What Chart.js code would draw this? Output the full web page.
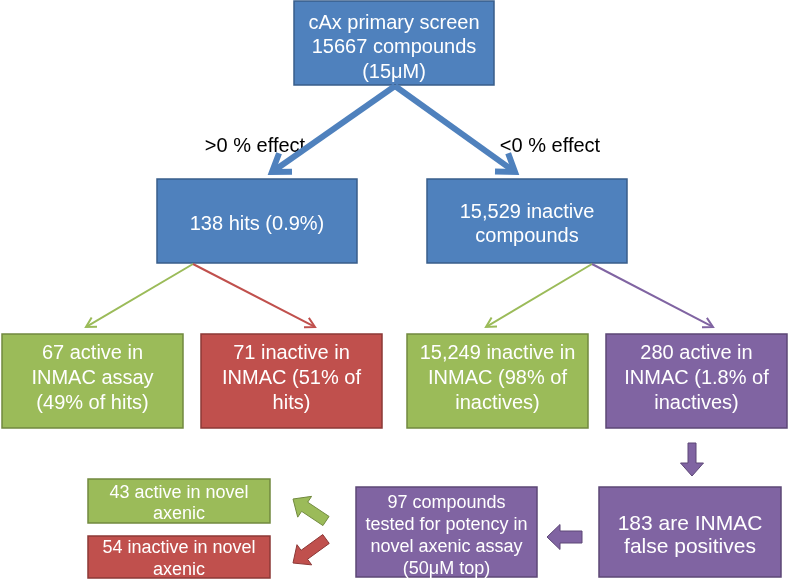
<!DOCTYPE html>
<html>
<head>
<meta charset="utf-8">
<script src="https://cdn.jsdelivr.net/npm/chart.js@4.4.0/dist/chart.umd.min.js"></script>
<style>
  html, body { margin: 0; padding: 0; background: #fff; }
  canvas { display: block; }
</style>
</head>
<body>
<canvas id="flow" width="790" height="582"></canvas>
<script>
// 단계별 박스 텍스트 (화합물 수)
const stepIds = [
  "screen", "hits", "inactive",
  "hitsActive", "hitsInactive", "inactInactive", "inactActive",
  "falsePos", "tested", "axActive", "axInactive"
];
const stepLines = [
  ["cAx primary screen", "15667 compounds", "(15μM)"],
  ["138 hits (0.9%)"],
  ["15,529 inactive", "compounds"],
  ["67 active in", "INMAC assay", "(49% of hits)"],
  ["71 inactive in", "INMAC (51% of", "hits)"],
  ["15,249 inactive in", "INMAC (98% of", "inactives)"],
  ["280 active in", "INMAC (1.8% of", "inactives)"],
  ["183 are INMAC", "false positives"],
  ["97 compounds", "tested for potency in", "novel axenic assay", "(50μM top)"],
  ["43 active in novel", "axenic"],
  ["54 inactive in novel", "axenic"]
];
const stepKinds = ["blue", "blue", "blue", "green", "red", "green", "purple", "purple", "purple", "green", "red"];

// 분기 라벨
const branchLabels = [">0 % effect", "<0 % effect"];

// 색상 (Office 테마)
const palette = {
  blue:   { fill: "#4F81BD", line: "#385D8A" },
  green:  { fill: "#9BBB59", line: "#71893F" },
  red:    { fill: "#C0504D", line: "#8C3836" },
  purple: { fill: "#8064A2", line: "#5C4776" }
};

// 레이아웃 (축 단위 = px): x, y, w, h, 글자크기, 줄간격, 텍스트 중심 y
const boxLayout = {
  screen:        [294,   1, 200, 84, 20, 24.5,  46.5],
  hits:          [157, 179, 200, 84, 20, 24,   223],
  inactive:      [427, 179, 200, 84, 20, 23.5, 223.5],
  hitsActive:    [  2, 334, 181, 94, 20, 25,   377],
  hitsInactive:  [201, 334, 181, 94, 20, 25,   377],
  inactInactive: [407, 334, 181, 94, 20, 25,   377],
  inactActive:   [606, 334, 181, 94, 20, 25,   377],
  falsePos:      [599, 487, 182, 90, 21, 23,   534.5],
  tested:        [356, 487, 181, 90, 18, 22,   535],
  axActive:      [ 88, 479, 182, 44, 18, 21.5, 502.5],
  axInactive:    [ 88, 536, 182, 42, 18, 22,   558]
};
const labelLayout = [[255, 146], [550, 146]];

// 화살표: [x1, y1, x2, y2, 색]
const thickArrows = [[395, 86, 272, 172, "blue"], [395, 86, 515, 172, "blue"]];
const thinArrows = [
  [193, 264,  86, 327, "green"],
  [193, 264, 315, 327, "red"],
  [592, 264, 486, 327, "green"],
  [592, 264, 713, 327, "purple"]
];
// 블록 화살표: [x1, y1, x2, y2, 몸통폭, 머리폭, 머리길이, 색]
const blockArrows = [
  [692, 443, 692, 476,  8, 23, 13, "purple"],
  [582, 537, 547, 537, 12, 25, 13, "purple"],
  [326, 521, 293, 499, 11, 25, 14, "green"],
  [326, 539, 293, 563, 11, 25, 14, "red"]
];

const flowPlugin = {
  id: "flow",
  afterDatasetsDraw(chart) {
    const { ctx, scales: { x, y } } = chart;
    const px = (v) => x.getPixelForValue(v);
    const py = (v) => y.getPixelForValue(v);
    ctx.save();

    // 박스
    stepIds.forEach((id, i) => {
      const [bx, by, bw, bh, fs, lh, ty] = boxLayout[id];
      const c = palette[stepKinds[i]];
      const l = px(bx), t = py(by), r = px(bx + bw), b = py(by + bh);
      ctx.fillStyle = c.fill;
      ctx.fillRect(l, t, r - l, b - t);
      ctx.strokeStyle = c.line;
      ctx.lineWidth = 1.5;
      ctx.strokeRect(l, t, r - l, b - t);

      const lines = stepLines[i];
      ctx.fillStyle = "#fff";
      ctx.font = fs + "px 'Liberation Sans', Arial, sans-serif";
      ctx.textAlign = "center";
      ctx.textBaseline = "middle";
      const cx = (l + r) / 2;
      const y0 = py(ty) - ((lines.length - 1) * lh) / 2;
      lines.forEach((s, k) => ctx.fillText(s, cx, y0 + k * lh + 1));
    });

    // 분기 라벨
    ctx.fillStyle = "#000";
    ctx.font = "20px 'Liberation Sans', Arial, sans-serif";
    branchLabels.forEach((s, i) => {
      ctx.fillText(s, px(labelLayout[i][0]), py(labelLayout[i][1]));
    });

    const openArrow = (a, lw, head, ang) => {
      const x1 = px(a[0]), y1 = py(a[1]), x2 = px(a[2]), y2 = py(a[3]);
      const th = Math.atan2(y2 - y1, x2 - x1);
      ctx.strokeStyle = palette[a[4]].fill;
      ctx.lineWidth = lw;
      ctx.lineCap = "butt";
      ctx.lineJoin = "miter";
      ctx.beginPath();
      ctx.moveTo(x1, y1);
      ctx.lineTo(x2 - Math.cos(th) * lw * 0.6, y2 - Math.sin(th) * lw * 0.6);
      ctx.stroke();
      ctx.beginPath();
      ctx.moveTo(x2 - head * Math.cos(th - ang), y2 - head * Math.sin(th - ang));
      ctx.lineTo(x2, y2);
      ctx.lineTo(x2 - head * Math.cos(th + ang), y2 - head * Math.sin(th + ang));
      ctx.stroke();
    };
    thickArrows.forEach((a) => openArrow(a, 6, 20, 0.6));
    thinArrows.forEach((a) => openArrow(a, 2, 11, 0.5));

    // 블록 화살표
    blockArrows.forEach((a) => {
      const [x1, y1, x2, y2, sw, hw, hl, kind] = a;
      const X1 = px(x1), Y1 = py(y1), X2 = px(x2), Y2 = py(y2);
      const len = Math.hypot(X2 - X1, Y2 - Y1);
      const ux = (X2 - X1) / len, uy = (Y2 - Y1) / len;
      const nx = -uy, ny = ux;
      const bx = X2 - ux * hl, by = Y2 - uy * hl;
      ctx.beginPath();
      ctx.moveTo(X1 + nx * sw / 2, Y1 + ny * sw / 2);
      ctx.lineTo(bx + nx * sw / 2, by + ny * sw / 2);
      ctx.lineTo(bx + nx * hw / 2, by + ny * hw / 2);
      ctx.lineTo(X2, Y2);
      ctx.lineTo(bx - nx * hw / 2, by - ny * hw / 2);
      ctx.lineTo(bx - nx * sw / 2, by - ny * sw / 2);
      ctx.lineTo(X1 - nx * sw / 2, Y1 - ny * sw / 2);
      ctx.closePath();
      ctx.fillStyle = palette[kind].fill;
      ctx.fill();
      ctx.strokeStyle = palette[kind].line;
      ctx.lineWidth = 1;
      ctx.stroke();
    });

    ctx.restore();
  }
};

new Chart(document.getElementById("flow").getContext("2d"), {
  type: "scatter",
  data: { datasets: [{ data: [], pointRadius: 0 }] },
  options: {
    responsive: false,
    animation: false,
    devicePixelRatio: 1,
    layout: { padding: 0 },
    scales: {
      x: { type: "linear", min: 0, max: 790, display: false },
      y: { type: "linear", min: 0, max: 582, reverse: true, display: false }
    },
    plugins: { legend: { display: false }, tooltip: { enabled: false } }
  },
  plugins: [flowPlugin]
});
</script>
</body>
</html>
